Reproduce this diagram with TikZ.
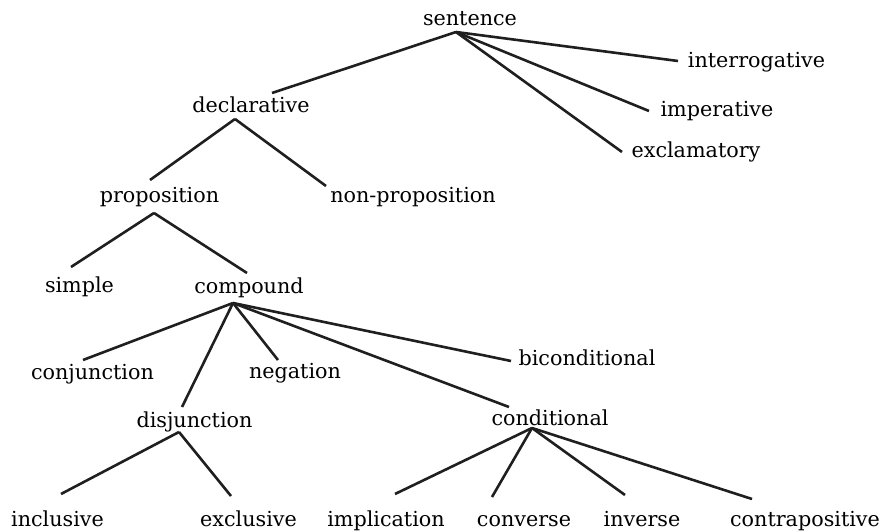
\documentclass[tikz,border=0pt]{standalone}
\usepackage{fontspec}
\setmainfont{DejaVu Serif}
\usetikzlibrary{calc}

\begin{document}
\begin{tikzpicture}[%
		x=1pt,y=-1pt,
		word/.style={anchor=base,inner sep=0pt,font=\fontsize{20.7}{24}\selectfont},
		branch/.style={line width=2.6pt,black!88}
		]

		\useasboundingbox (0,0) rectangle (884,532);

		%% words (name / x / baseline / text)
		\foreach \n/\x/\y/\t in {
			sentence/470/26/sentence,
			interrog/756.5/68/interrogative,
			imperat/717/117/imperative,
			exclam/696/158/exclamatory,
			declar/251/113/declarative,
			prop/159.5/203/proposition,
			nonprop/413/203/non-proposition,
			simple/79.5/292/simple,
			compound/249/293/compound,
			conj/92.5/379/conjunction,
			negation/295/378/negation,
			bicond/587/365/biconditional,
			disj/194.5/427/disjunction,
			cond/550/425/conditional,
			inclusive/57.5/526/inclusive,
			exclusive/248.5/526/exclusive,
			implic/386/526/implication,
			converse/524/526/converse,
			inverse/642/526/inverse,
			contrapos/805/526/contrapositive} {
			\node [word] (\n) at (\x,\y) {\t};
		}

		%% branches (parent / offset / child / offset)
		\foreach \a/\ax/\ay/\b/\bx/\by in {
			sentence/-14/6/declar/21/-20,
			sentence/-14/6/interrog/-78.5/-7,
			sentence/-14/6/imperat/-68/-6,
			sentence/-14/6/exclam/-74/-6,
			declar/-16/6/prop/-9.5/-23,
			declar/-16/6/nonprop/-87/-17,
			prop/-5.5/10/simple/-8.5/-25,
			prop/-5.5/10/compound/-2/-20,
			compound/-16/10/conj/-9.5/-19,
			compound/-16/10/disj/-12.5/-20,
			compound/-16/10/negation/-17/-18,
			compound/-16/10/cond/-41/-18,
			compound/-16/10/bicond/-76/-4,
			disj/-15.5/5/inclusive/3.5/-32,
			disj/-15.5/5/exclusive/-17.5/-30,
			cond/-18/3/implic/9/-32,
			cond/-18/3/converse/-32/-29,
			cond/-18/3/inverse/-17/-31,
			cond/-18/3/contrapos/-53/-27} {
			\draw [branch] ($(\a.base)+(\ax,\ay)$) -- ($(\b.base)+(\bx,\by)$);
		}

	\end{tikzpicture}
\end{document}
